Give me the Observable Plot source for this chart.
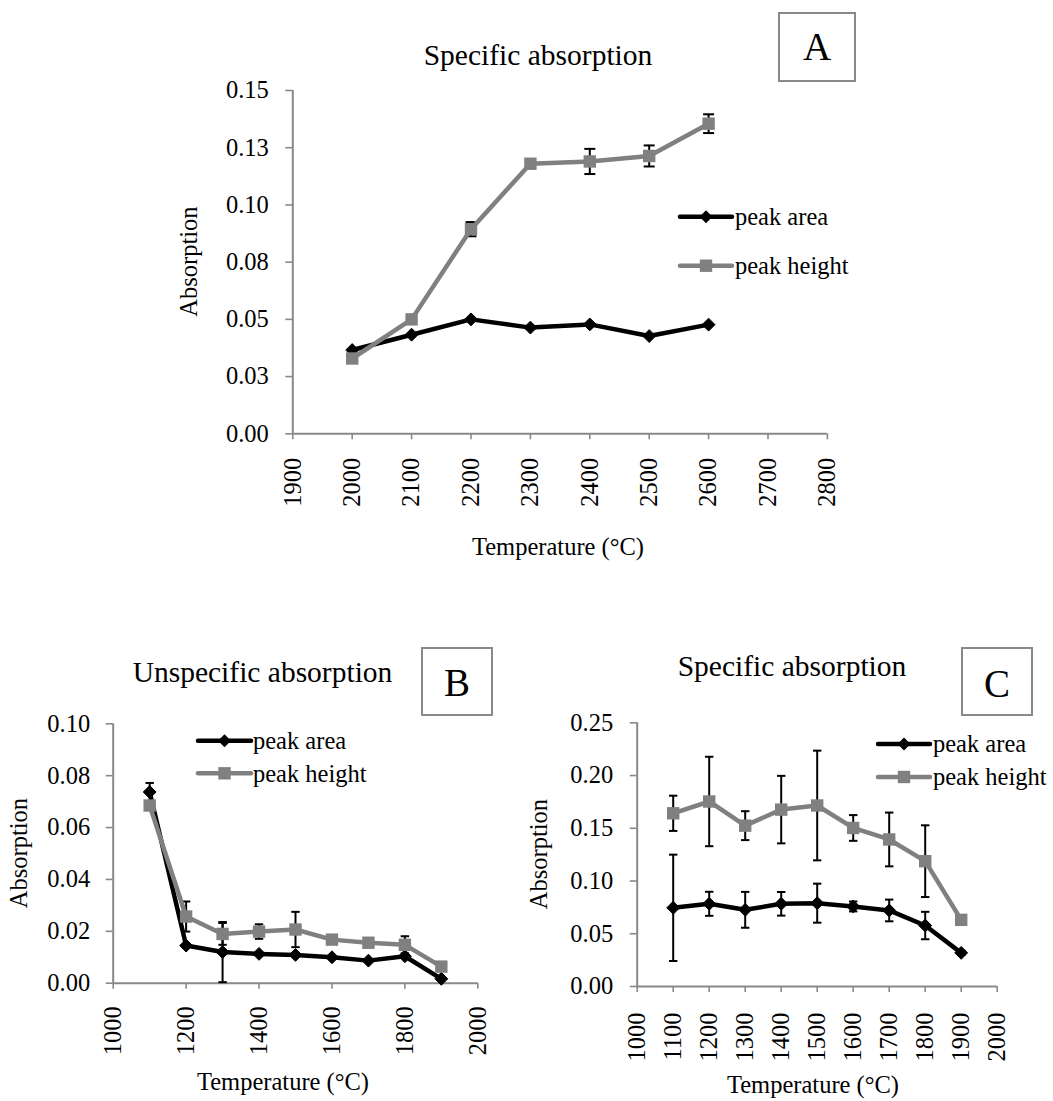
<!DOCTYPE html>
<html><head><meta charset="utf-8">
<script src="https://cdn.jsdelivr.net/npm/d3@7"></script>
<script src="https://cdn.jsdelivr.net/npm/@observablehq/plot@0.6"></script>
<style>
body{margin:0;background:#fff;font-family:"Liberation Serif","Times New Roman",Times,"DejaVu Serif",serif;}
#page{position:relative;width:1053px;height:1101px;overflow:hidden;background:#fff;}
#page svg{position:absolute;}
#page svg text{font-family:"Liberation Serif","Times New Roman",Times,"DejaVu Serif",serif !important;}
</style></head><body><div id="page"></div>
<script>
// ---------- Panel A : Specific absorption (2000–2600 °C) ----------
const tempsA = [2000, 2100, 2200, 2300, 2400, 2500, 2600];
const areaA = [0.0366, 0.0433, 0.0500, 0.0464, 0.0478, 0.0427, 0.0477];
const areaErrA = [0, 0, 0, 0, 0, 0, 0];
const heightA = [0.0329, 0.0500, 0.0894, 0.1180, 0.1190, 0.1214, 0.1355];
const heightErrA = [0, 0, 0.0031, 0, 0.0055, 0.0046, 0.0041];
const xTicksA = [1900, 2000, 2100, 2200, 2300, 2400, 2500, 2600, 2700, 2800];
const yTicksA = [0, 0.025, 0.05, 0.075, 0.1, 0.125, 0.15];
const yLabelsA = ["0.00", "0.03", "0.05", "0.08", "0.10", "0.13", "0.15"];

// ---------- Panel B : Unspecific absorption ----------
const tempsB = [1100, 1200, 1300, 1400, 1500, 1600, 1700, 1800, 1900];
const areaB = [0.0737, 0.0145, 0.0120, 0.0113, 0.0109, 0.0100, 0.0087, 0.0104, 0.0017];
const areaErrB = [0.0035, 0, 0.0116, 0, 0, 0, 0, 0, 0];
const heightB = [0.0685, 0.0257, 0.0190, 0.0199, 0.0207, 0.0168, 0.0156, 0.0148, 0.0064];
const heightErrB = [0, 0.0058, 0.0042, 0.0028, 0.0068, 0, 0, 0.0033, 0];
const xTicksB = [1000, 1200, 1400, 1600, 1800, 2000];
const yTicksB = [0, 0.02, 0.04, 0.06, 0.08, 0.10];
const yLabelsB = ["0.00", "0.02", "0.04", "0.06", "0.08", "0.10"];

// ---------- Panel C : Specific absorption (1100–1900 °C) ----------
const tempsC = [1100, 1200, 1300, 1400, 1500, 1600, 1700, 1800, 1900];
const areaC = [0.0746, 0.0784, 0.0727, 0.0784, 0.0790, 0.0759, 0.0721, 0.0578, 0.0319];
const areaErrC = [0.0504, 0.0114, 0.0170, 0.0112, 0.0185, 0.0047, 0.0103, 0.0130, 0.0020];
const heightC = [0.1642, 0.1754, 0.1525, 0.1677, 0.1716, 0.1503, 0.1394, 0.1188, 0.0632];
const heightErrC = [0.0167, 0.0424, 0.0137, 0.0320, 0.0520, 0.0122, 0.0255, 0.0340, 0.0030];
const xTicksC = [1000, 1100, 1200, 1300, 1400, 1500, 1600, 1700, 1800, 1900, 2000];
const yTicksC = [0, 0.05, 0.10, 0.15, 0.20, 0.25];
const yLabelsC = ["0.00", "0.05", "0.10", "0.15", "0.20", "0.25"];

const seriesNames = ["peak area", "peak height"];
const titles = ["Specific absorption", "Unspecific absorption", "Specific absorption"];
const panelLetters = ["A", "B", "C"];
const xLabel = "Temperature (°C)";
const yLabel = "Absorption";

const FONT = '"Liberation Serif","Times New Roman",Times,"DejaVu Serif",serif';
const BLACK = "#000000", GREY = "#808080", AXIS = "#898989";
const page = document.getElementById("page");

function rows(t, v, e) { return t.map((x, i) => ({t: x, v: v[i], e: e[i]})); }

function panel(cfg) {
  const area = rows(cfg.temps, cfg.area, cfg.areaErr);
  const height = rows(cfg.temps, cfg.height, cfg.heightErr);
  const errs = area.concat(height).filter(d => d.e > 0);
  const cap = {draw(ctx) { ctx.moveTo(-cfg.cap, 0); ctx.lineTo(cfg.cap, 0); }};
  const svg = Plot.plot({
    width: cfg.width, height: cfg.height_,
    marginLeft: cfg.ml, marginRight: cfg.mr, marginTop: cfg.mt, marginBottom: cfg.mb,
    x: {domain: [cfg.xTicks[0], cfg.xTicks[cfg.xTicks.length - 1]]},
    y: {domain: [cfg.yTicks[0], cfg.yTicks[cfg.yTicks.length - 1]]},
    style: {fontFamily: FONT, fontSize: "24.5px", background: "transparent", color: "black", overflow: "visible"},
    marks: [
      Plot.axisY({ticks: cfg.yTicks, tickFormat: d => cfg.yLabels[cfg.yTicks.indexOf(d)], tickSize: 7, tickPadding: cfg.ypad,
        stroke: AXIS, strokeWidth: 1.6, fill: "black", label: null}),
      Plot.axisX({ticks: cfg.xTicks, tickFormat: d => String(d), tickSize: 6, tickPadding: cfg.xpad, tickRotate: -90,
        stroke: AXIS, strokeWidth: 1.6, fill: "black", label: null}),
      Plot.ruleX([cfg.xTicks[0]], {stroke: AXIS, strokeWidth: 2}),
      Plot.ruleY([cfg.yTicks[0]], {stroke: AXIS, strokeWidth: 2}),
      Plot.ruleX(errs, {x: "t", y1: d => d.v - d.e, y2: d => d.v + d.e, stroke: BLACK, strokeWidth: 2}),
      Plot.dot(errs, {x: "t", y: d => d.v - d.e, symbol: cap, r: 3, fill: "none", stroke: BLACK, strokeWidth: 2}),
      Plot.dot(errs, {x: "t", y: d => d.v + d.e, symbol: cap, r: 3, fill: "none", stroke: BLACK, strokeWidth: 2}),
      Plot.line(area, {x: "t", y: "v", stroke: BLACK, strokeWidth: 4.5}),
      Plot.dot(area, {x: "t", y: "v", symbol: "diamond2", r: 5.8, fill: BLACK, stroke: BLACK, strokeWidth: 1}),
      Plot.line(height, {x: "t", y: "v", stroke: GREY, strokeWidth: 4.5}),
      Plot.dot(height, {x: "t", y: "v", symbol: "square", r: 7, fill: GREY, stroke: "none"})
    ]
  });
  svg.style.left = cfg.left + "px";
  svg.style.top = cfg.top + "px";
  page.appendChild(svg);
}

panel({temps: tempsA, area: areaA, areaErr: areaErrA, height: heightA, heightErr: heightErrA,
  xTicks: xTicksA, yTicks: yTicksA, yLabels: yLabelsA,
  left: 0, top: 0, width: 880, height_: 600, ml: 292.3, mr: 53.1, mt: 90, mb: 166.7, ypad: 17, xpad: 18, cap: 5.5});
panel({temps: tempsB, area: areaB, areaErr: areaErrB, height: heightB, heightErr: heightErrB,
  xTicks: xTicksB, yTicks: yTicksB, yLabels: yLabelsB,
  left: 0, top: 620, width: 520, height_: 480, ml: 112.7, mr: 42.7, mt: 103.3, mb: 117.3, ypad: 16, xpad: 17, cap: 4.2});
panel({temps: tempsC, area: areaC, areaErr: areaErrC, height: heightC, heightErr: heightErrC,
  xTicks: xTicksC, yTicks: yTicksC, yLabels: yLabelsC,
  left: 520, top: 620, width: 533, height_: 480, ml: 116.7, mr: 56.3, mt: 102.3, mb: 114, ypad: 17, xpad: 20, cap: 4.2});

// ---------- Overlay: titles, panel letters, axis titles, legends ----------
const ov = d3.select(page).append("svg").attr("width", 1053).attr("height", 1101)
  .style("left", "0px").style("top", "0px").attr("font-family", FONT);

const annos = [
  {title: [538, 65], box: [779, 13, 76, 68], letter: [817, 60], xl: [558, 555], yl: [197, 261.5],
   leg: {x0: 680, x1: 732, tx: 735, rows: [216.7, 265.7]}},
  {title: [262.5, 682], box: [422, 648, 70, 67], letter: [457, 696], xl: [283, 1090], yl: [27, 853],
   leg: {x0: 198, x1: 251, tx: 253, rows: [740.7, 773.3]}},
  {title: [792, 676], box: [962, 648, 70, 67], letter: [997, 697], xl: [813, 1093], yl: [547, 854],
   leg: {x0: 878, x1: 930, tx: 933, rows: [744, 777]}}
];

annos.forEach((a, i) => {
  ov.append("text").attr("x", a.title[0]).attr("y", a.title[1]).attr("text-anchor", "middle")
    .attr("font-size", 29.5).text(titles[i]);
  ov.append("rect").attr("x", a.box[0]).attr("y", a.box[1]).attr("width", a.box[2]).attr("height", a.box[3])
    .attr("fill", "white").attr("stroke", AXIS).attr("stroke-width", 2);
  ov.append("text").attr("x", a.letter[0]).attr("y", a.letter[1]).attr("text-anchor", "middle")
    .attr("font-size", 39).text(panelLetters[i]);
  ov.append("text").attr("x", a.xl[0]).attr("y", a.xl[1]).attr("text-anchor", "middle")
    .attr("font-size", 24.5).text(xLabel);
  ov.append("text").attr("transform", `translate(${a.yl[0]},${a.yl[1]}) rotate(-90)`).attr("text-anchor", "middle")
    .attr("font-size", 24.5).text(yLabel);
  const L = a.leg, mid = (L.x0 + L.x1) / 2;
  seriesNames.forEach((name, k) => {
    const y = L.rows[k];
    const col = k === 0 ? BLACK : GREY;
    ov.append("line").attr("x1", L.x0).attr("x2", L.x1).attr("y1", y).attr("y2", y)
      .attr("stroke", col).attr("stroke-width", 4.5).attr("stroke-linecap", "round");
    if (k === 0) {
      ov.append("path").attr("d", `M${mid},${y - 6.5}L${mid + 6.5},${y}L${mid},${y + 6.5}L${mid - 6.5},${y}Z`).attr("fill", BLACK);
    } else {
      ov.append("rect").attr("x", mid - 6.2).attr("y", y - 6.2).attr("width", 12.4).attr("height", 12.4).attr("fill", GREY);
    }
    ov.append("text").attr("x", L.tx).attr("y", y + 8.3).attr("font-size", 24.5).text(name);
  });
});
</script></body></html>
